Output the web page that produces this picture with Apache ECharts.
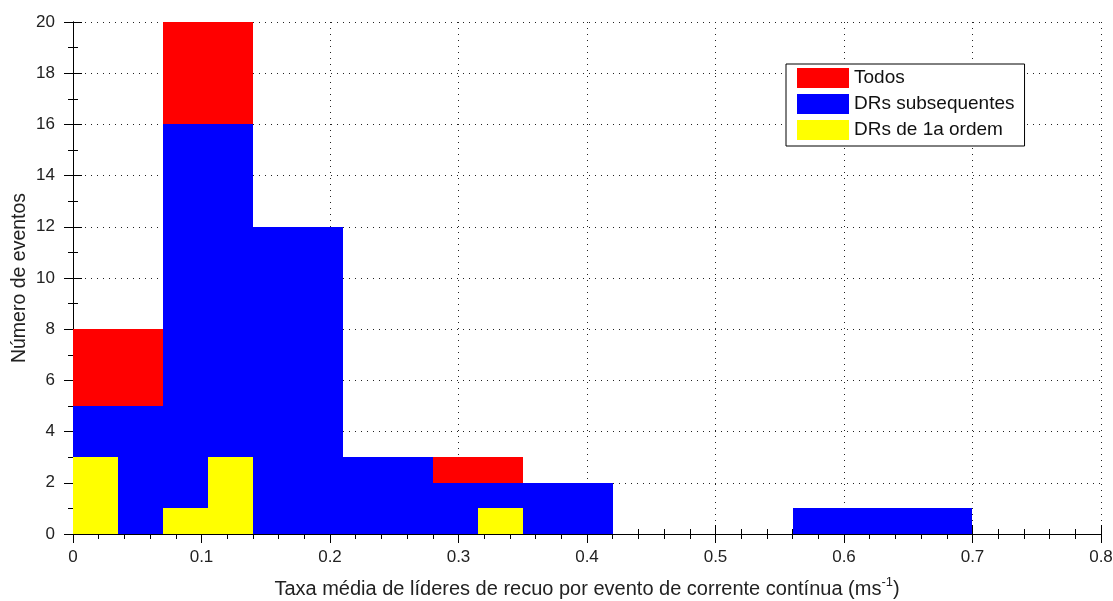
<!DOCTYPE html>
<html>
<head>
<meta charset="utf-8">
<script src="https://cdn.jsdelivr.net/npm/echarts@6/dist/echarts.min.js"></script>
<style>html,body{margin:0;padding:0;background:#fff}#c{width:1113px;height:601px}</style>
</head>
<body>
<div id="c"></div>
<script>
// Histogram bins (width 0.07) for "Todos" and "DRs subsequentes"
const binEdges = [0, 0.07, 0.14, 0.21, 0.28, 0.35, 0.42, 0.49, 0.56, 0.63, 0.70];
const todosCounts = [8, 20, 12, 3, 3, 2, 0, 0, 1, 1];
const subsCounts = [5, 16, 12, 3, 2, 2, 0, 0, 1, 1];
// Histogram bins (width 0.035) for "DRs de 1a ordem"
const firstEdges = [0, 0.035, 0.07, 0.105, 0.14, 0.175, 0.21, 0.245, 0.28, 0.315, 0.35];
const firstCounts = [3, 0, 1, 3, 0, 0, 0, 0, 0, 1];

const xTicks = ['0', '0.1', '0.2', '0.3', '0.4', '0.5', '0.6', '0.7', '0.8'];
const seriesNames = ['Todos', 'DRs subsequentes', 'DRs de 1a ordem'];
const colors = ['#ff0000', '#0000ff', '#ffff00'];

function toRects(edges, counts) {
  const out = [];
  for (let i = 0; i < counts.length; i++) {
    if (counts[i] > 0) out.push([edges[i], edges[i + 1], counts[i]]);
  }
  return out;
}

function makeSeries(name, color, data, z) {
  return {
    type: 'custom',
    name: name,
    z: z,
    itemStyle: { color: color },
    encode: { x: [0, 1], y: 2 },
    data: data,
    renderItem: function (params, api) {
      const p0 = api.coord([api.value(0), api.value(2)]);
      const p1 = api.coord([api.value(1), 0]);
      const x0 = Math.round(p0[0]), x1 = Math.round(p1[0]);
      const y0 = Math.round(p0[1]), y1 = Math.round(p1[1]);
      return {
        type: 'rect',
        shape: { x: x0, y: y0, width: x1 - x0, height: y1 - y0 },
        style: { fill: color }
      };
    }
  };
}

const font = 'Liberation Sans, Arial, sans-serif';
const axisLine = { show: true, lineStyle: { color: '#000', width: 1 } };

const chart = echarts.init(document.getElementById('c'));
chart.setOption({
  animation: false,
  backgroundColor: '#fff',
  grid: { left: 73, right: 12, top: 22, bottom: 67, outerBoundsMode: 'none', containLabel: false },
  legend: {
    orient: 'vertical',
    left: 786,
    top: 64,
    padding: [4, 10, 6, 11],
    itemGap: 6,
    itemWidth: 52,
    itemHeight: 20,
    borderColor: '#000',
    borderWidth: 1,
    borderRadius: 0,
    backgroundColor: '#fff',
    icon: 'rect',
    data: seriesNames,
    textStyle: { fontFamily: font, fontSize: 19, color: '#111' }
  },
  xAxis: [
    {
      type: 'value', min: 0, max: 0.8, interval: 0.1, position: 'bottom',
      axisLine: axisLine,
      axisTick: { show: true, length: 9, lineStyle: { color: '#000' } },
      minorTick: { show: true, splitNumber: 5, length: 5, lineStyle: { color: '#000' } },
      splitLine: { show: true, lineStyle: { color: '#222', type: [1, 5], width: 1 } },
      axisLabel: {
        fontFamily: font, fontSize: 17, color: '#222', margin: 15,
        formatter: function (v) { return xTicks[Math.round(v * 10)]; }
      },
      name: '{a|Taxa média de líderes de recuo por evento de corrente contínua (ms}{s|-1}{a|)}',
      nameLocation: 'middle',
      nameGap: 42,
      nameMoveOverlap: false,
      nameTextStyle: {
        rich: {
          a: { fontFamily: font, fontSize: 20, color: '#222' },
          s: { fontFamily: font, fontSize: 13, color: '#222', verticalAlign: 'bottom', padding: [0, 0, 14, 0] }
        }
      }
    },
    {
      type: 'value', min: 0, max: 0.8, interval: 0.1, position: 'top',
      axisLine: axisLine,
      axisTick: { show: true, length: 9, lineStyle: { color: '#000' } },
      minorTick: { show: true, splitNumber: 5, length: 5, lineStyle: { color: '#000' } },
      splitLine: { show: false },
      axisLabel: { show: false }
    }
  ],
  yAxis: [
    {
      type: 'value', min: 0, max: 20, interval: 2, position: 'left',
      axisLine: axisLine,
      axisTick: { show: true, length: 9, lineStyle: { color: '#000' } },
      minorTick: { show: true, splitNumber: 2, length: 5, lineStyle: { color: '#000' } },
      splitLine: { show: true, lineStyle: { color: '#222', type: [1, 5], width: 1 } },
      axisLabel: { fontFamily: font, fontSize: 17, color: '#222', margin: 18 },
      name: 'Número de eventos',
      nameLocation: 'middle',
      nameGap: 43,
      nameMoveOverlap: false,
      nameTextStyle: { fontFamily: font, fontSize: 19.5, color: '#222' }
    },
    {
      type: 'value', min: 0, max: 20, interval: 2, position: 'right',
      axisLine: axisLine,
      axisTick: { show: true, length: 9, lineStyle: { color: '#000' } },
      minorTick: { show: true, splitNumber: 2, length: 5, lineStyle: { color: '#000' } },
      splitLine: { show: false },
      axisLabel: { show: false }
    }
  ],
  series: [
    makeSeries(seriesNames[0], colors[0], toRects(binEdges, todosCounts), 2),
    makeSeries(seriesNames[1], colors[1], toRects(binEdges, subsCounts), 3),
    makeSeries(seriesNames[2], colors[2], toRects(firstEdges, firstCounts), 4)
  ]
});
</script>
</body>
</html>
